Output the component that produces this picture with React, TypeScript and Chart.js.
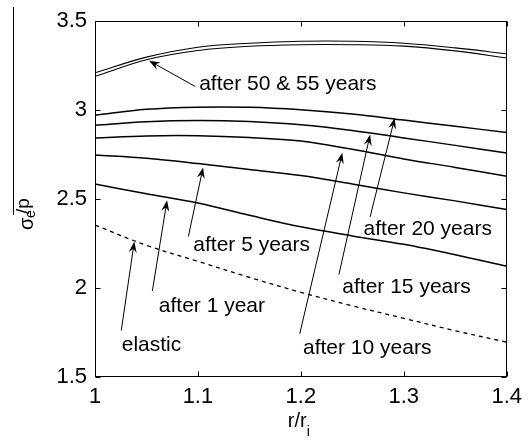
import React, { useEffect, useRef } from 'react';
import { Chart, registerables } from 'chart.js';

Chart.register(...registerables);

// r / r_i sample positions
const rValues = [1, 1.05, 1.1, 1.15, 1.2, 1.25, 1.3, 1.35, 1.4];

// sigma_e / p for each case
const elastic = [2.354, 2.24, 2.15, 2.06, 1.976, 1.9, 1.83, 1.76, 1.696];
const after1 = [2.585, 2.53, 2.478, 2.409, 2.344, 2.293, 2.246, 2.187, 2.122];
const after5 = [2.748, 2.73, 2.7, 2.666, 2.632, 2.585, 2.535, 2.49, 2.441];
const after10 = [2.844, 2.855, 2.856, 2.846, 2.826, 2.78, 2.726, 2.678, 2.628];
const after15 = [2.915, 2.935, 2.942, 2.936, 2.918, 2.886, 2.844, 2.802, 2.759];
const after20 = [2.972, 3.005, 3.017, 3.016, 3.002, 2.978, 2.944, 2.909, 2.875];
const after50 = [3.21, 3.298, 3.354, 3.376, 3.387, 3.387, 3.376, 3.35, 3.317];
const after55 = [3.19, 3.283, 3.335, 3.359, 3.368, 3.368, 3.36, 3.333, 3.293];

const xTickLabels = ['1', '1.1', '1.2', '1.3', '1.4'];
const yTickLabels = ['1.5', '2', '2.5', '3', '3.5'];

// annotation labels (data coordinates: r/r_i, sigma_e/p)
const labelTexts = ['after 50 & 55 years', 'after 5 years', 'after 1 year', 'elastic', 'after 10 years', 'after 15 years', 'after 20 years'];
const labelR = [1.1012, 1.0955, 1.062, 1.026, 1.2021, 1.2403, 1.2609];
const labelS = [3.113, 2.2056, 1.863, 1.646, 1.632, 1.974, 2.298];
const tailR = [1.0974, 1.0907, 1.0557, 1.0255, 1.1989, 1.237, 1.2673];
const tailS = [3.133, 2.289, 1.983, 1.761, 1.743, 2.076, 2.4];
const headR = [1.0525, 1.105, 1.07, 1.0382, 1.2403, 1.2673, 1.2912];
const headS = [3.278, 2.678, 2.493, 2.261, 2.761, 2.863, 2.956];

const FONT = '"Liberation Sans", Arial, Helvetica, sans-serif';

function drawArrow(ctx: CanvasRenderingContext2D, x0: number, y0: number, x1: number, y1: number) {
  const ang = Math.atan2(y1 - y0, x1 - x0);
  const c = Math.cos(ang), s = Math.sin(ang);
  const L = 11, W = 4;
  ctx.beginPath();
  ctx.moveTo(x0, y0);
  ctx.lineTo(x1 - 6 * c, y1 - 6 * s);
  ctx.stroke();
  const bx = x1 - L * c, by = y1 - L * s;
  const nx = -s, ny = c;
  ctx.beginPath();
  ctx.moveTo(x1, y1);
  ctx.lineTo(bx + W * nx, by + W * ny);
  ctx.lineTo(x1 - 0.65 * L * c, y1 - 0.65 * L * s);
  ctx.lineTo(bx - W * nx, by - W * ny);
  ctx.closePath();
  ctx.fill();
}

const overlay = {
  id: 'overlay',
  afterDraw(chart: any) {
    const { ctx, chartArea: a, scales } = chart;
    const xs = scales.x, ys = scales.y;
    ctx.save();
    ctx.strokeStyle = '#000';
    ctx.fillStyle = '#000';
    ctx.lineWidth = 1;
    // box
    const L = Math.round(a.left) + 0.5, R = Math.round(a.right) - 0.5;
    const T = Math.round(a.top) + 0.5, B = Math.round(a.bottom) - 0.5;
    ctx.strokeRect(L, T, R - L, B - T);
    // inward ticks
    const tk = 5;
    ctx.beginPath();
    xs.ticks.forEach((t: any) => {
      const x = Math.round(xs.getPixelForValue(t.value)) + 0.5;
      ctx.moveTo(x, B); ctx.lineTo(x, B - tk);
      ctx.moveTo(x, T); ctx.lineTo(x, T + tk);
    });
    ys.ticks.forEach((t: any) => {
      const y = Math.round(ys.getPixelForValue(t.value)) + 0.5;
      ctx.moveTo(L, y); ctx.lineTo(L + tk, y);
      ctx.moveTo(R, y); ctx.lineTo(R - tk, y);
    });
    ctx.stroke();

    // annotations
    ctx.lineWidth = 1;
    for (let i = 0; i < labelTexts.length; i++) {
      drawArrow(
        ctx,
        xs.getPixelForValue(tailR[i]), ys.getPixelForValue(tailS[i]),
        xs.getPixelForValue(headR[i]), ys.getPixelForValue(headS[i])
      );
    }
    ctx.font = `21px ${FONT}`;
    ctx.textAlign = 'left';
    ctx.textBaseline = 'alphabetic';
    for (let i = 0; i < labelTexts.length; i++) {
      ctx.fillText(labelTexts[i], xs.getPixelForValue(labelR[i]), ys.getPixelForValue(labelS[i]));
    }

    // x axis title r/r_i
    const cx = (a.left + a.right) / 2;
    ctx.font = `20px ${FONT}`;
    const w1 = ctx.measureText('r/r').width;
    ctx.font = `14px ${FONT}`;
    const w2 = ctx.measureText('i').width;
    const sx = cx - (w1 + w2) / 2 - 2;
    ctx.font = `20px ${FONT}`;
    ctx.fillText('r/r', sx, a.bottom + 50);
    ctx.font = `14px ${FONT}`;
    ctx.fillText('i', sx + w1, a.bottom + 59);

    // y axis title sigma_e/p (rotated)
    const yc = (a.top + a.bottom) / 2 + 16;
    const drawRot = (txt: string, font: string, bx: number, by: number) => {
      ctx.save();
      ctx.translate(bx, by);
      ctx.rotate(-Math.PI / 2);
      ctx.font = font;
      ctx.fillText(txt, 0, 0);
      ctx.restore();
    };
    drawRot('σ', `20px ${FONT}`, 33, yc + 15);
    drawRot('e', `14px ${FONT}`, 35, yc + 3);
    drawRot('/p', `19px ${FONT}`, 29, yc - 1);
    // overline stroke left of the title
    ctx.beginPath();
    ctx.moveTo(13.5, 7);
    ctx.lineTo(13.5, 215);
    ctx.stroke();
    ctx.restore();
  },
};

export default function App() {
  const ref = useRef<HTMLCanvasElement | null>(null);
  useEffect(() => {
    if (!ref.current) return;
    const mk = (vals: number[], width: number, dash: number[] = []) => ({
      data: rValues.map((r, i) => ({ x: r, y: vals[i] })),
      borderColor: '#000',
      backgroundColor: '#000',
      borderWidth: width,
      borderDash: dash,
      pointRadius: 0,
      tension: 0.35,
      fill: false,
    });
    const chart = new Chart(ref.current, {
      type: 'line',
      data: {
        datasets: [
          mk(elastic, 1.3, [4, 4]),
          mk(after1, 1.5),
          mk(after5, 1.5),
          mk(after10, 1.5),
          mk(after15, 1.5),
          mk(after20, 1.5),
          mk(after50, 1.1),
          mk(after55, 1.1),
        ],
      },
      options: {
        responsive: false,
        animation: false,
        layout: { padding: { top: 17, right: 15, left: 0, bottom: 0 } },
        plugins: { legend: { display: false }, tooltip: { enabled: false } },
        scales: {
          x: {
            type: 'linear',
            min: 1,
            max: 1.4,
            grid: { drawOnChartArea: false, drawTicks: false },
            border: { display: false },
            ticks: {
              stepSize: 0.1,
              autoSkip: false,
              maxRotation: 0,
              padding: 7,
              color: '#000',
              font: { family: FONT, size: 22 },
              callback: (_v: any, i: number) => xTickLabels[i],
            },
            afterFit: (s: any) => { s.height = 65; },
          },
          y: {
            type: 'linear',
            min: 1.5,
            max: 3.5,
            grid: { drawOnChartArea: false, drawTicks: false },
            border: { display: false },
            ticks: {
              stepSize: 0.5,
              autoSkip: false,
              padding: 8,
              color: '#000',
              font: { family: FONT, size: 22 },
              callback: (_v: any, i: number) => yTickLabels[i],
            },
            afterFit: (s: any) => { s.width = 95; },
          },
        },
      },
      plugins: [overlay],
    });
    return () => chart.destroy();
  }, []);
  return (
    <div style={{ position: 'fixed', left: 0, top: 0, width: 529, height: 442, background: '#fff' }}>
      <canvas ref={ref} width={529} height={442} style={{ display: 'block' }} />
    </div>
  );
}
